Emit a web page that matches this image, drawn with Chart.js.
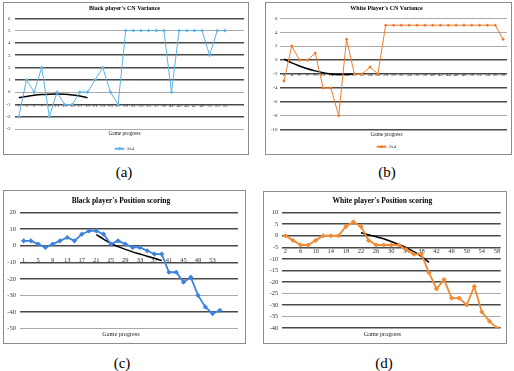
<!DOCTYPE html>
<html><head><meta charset="utf-8">
<script src="https://cdn.jsdelivr.net/npm/chart.js@4"></script>
<style>
html,body{margin:0;padding:0;background:#fff;}
body{width:514px;height:371px;position:relative;overflow:hidden;}
.frame{position:absolute;box-sizing:border-box;border:1px solid #8c8c8c;background:#fff;}
.frame canvas{position:absolute;left:0;top:0;}
.cap{position:absolute;font-size:15px;font-family:'Liberation Serif',serif;transform:translate(-50%,-50%);color:#000;white-space:nowrap;}
</style></head><body>
<div class="frame" style="left:3px;top:2px;width:246px;height:153px"><canvas id="ca" width="244" height="151" style="width:244px;height:151px"></canvas></div>
<div class="frame" style="left:265px;top:2px;width:247px;height:153px"><canvas id="cb" width="245" height="151" style="width:245px;height:151px"></canvas></div>
<div class="frame" style="left:3px;top:190px;width:243px;height:154px"><canvas id="cc" width="241" height="152" style="width:241px;height:152px"></canvas></div>
<div class="frame" style="left:263px;top:191px;width:244px;height:153px"><canvas id="cd" width="242" height="151" style="width:242px;height:151px"></canvas></div>
<div class="cap" style="left:124px;top:172px">(a)</div>
<div class="cap" style="left:387px;top:172px">(b)</div>
<div class="cap" style="left:122px;top:363px">(c)</div>
<div class="cap" style="left:384px;top:363px">(d)</div>
<script>
// ---------- data ----------
const movesOdd = [1,3,5,7,9,11,13,15,17,19,21,23,25,27,29,31,33,35,37,39,41,43,45,47,49,51,53,55];
const movesEven = [2,4,6,8,10,12,14,16,18,20,22,24,26,28,30,32,34,36,38,40,42,44,46,48,50,52,54,56,58];

const blackCN = [-2,1,0,2,-2,0,-1,-1,0,0,1,2,0,-1,5,5,5,5,5,5,0,5,5,5,5,3,5,5];
const blackCNTrendMoves = [1,3,5,7,9,11,13,15,17,19];
const blackCNTrend = [-0.46,-0.35,-0.26,-0.2,-0.17,-0.16,-0.18,-0.23,-0.31,-0.45];

const whiteCN = [-3,2,0,0,1,-4,-4,-8,3,-2,-2,-1,-2,5,5,5,5,5,5,5,5,5,5,5,5,5,5,5,3];
const whiteCNTrendMoves = [2,4,6,8,10,12,14,16,18,20];
const whiteCNTrend = [0.14,-0.4,-0.85,-1.25,-1.55,-1.8,-1.98,-2.07,-2.08,-2.0];

const blackPos = [3,3,1,-1,1,3,5,3,7,9,9,7,1,3,1,-1,-1,-3,-5,-5,-16,-16,-22,-19,-30,-37,-41,-39];
const blackPosTrendMoves = [21,23,25,27,29,31,33,35,37,39];
const blackPosTrend = [6.8,4.0,1.5,-0.5,-2.2,-3.7,-5.0,-6.3,-7.6,-8.9];

const whitePos = [0,-2,-4,-4,-2,0,0,0,4,6,4,-2,-4,-4,-4,-4,-6,-8,-8,-16,-23,-19,-27,-27,-30,-22,-33,-37,-40];
const whitePosTrendMoves = [22,24,26,28,30,32,34,36,38,40];
const whitePosTrend = [1.3,0.4,-0.4,-1.3,-2.5,-3.8,-5.2,-6.9,-8.9,-11.5];

const ticksA = movesOdd;
const ticksB = movesEven;
const ticksC = [1,5,9,13,17,21,25,29,33,37,41,45,49,53];
const ticksD = [2,6,10,14,18,22,26,30,34,38,42,46,50,54,58];

const titleA = "Black player's CN Variance";
const titleB = "White Player's CN Variance";
const titleC = "Black player's Position scoring";
const titleD = "White player's Position scoring";
const seriesLabel = '3x4';
const xTitle = 'Game progress';

// ---------- drawing ----------
const F = "'Liberation Serif', 'Times New Roman', serif";

const legendMarker = {
  id: 'legendMarker',
  afterDraw(chart) {
    const lg = chart.legend;
    if (!lg || !lg.options.display || !lg.legendHitBoxes || !lg.legendHitBoxes.length) return;
    const hb = lg.legendHitBoxes[0];
    const bw = lg.options.labels.boxWidth;
    const fs = lg.options.labels.font.size;
    const cx = hb.left + bw / 2, cy = hb.top + fs / 2;
    const ctx = chart.ctx, r = 1.8;
    ctx.save();
    ctx.fillStyle = chart.data.datasets[0].borderColor;
    ctx.beginPath();
    ctx.moveTo(cx, cy - r); ctx.lineTo(cx + r, cy); ctx.lineTo(cx, cy + r); ctx.lineTo(cx - r, cy);
    ctx.closePath(); ctx.fill();
    ctx.restore();
  }
};

function panel(id, c) {
  const pts = (xs, ys) => xs.map((x, i) => ({x: x, y: ys[i]}));
  new Chart(document.getElementById(id), {
    type: 'line',
    data: {
      datasets: [
        {label: seriesLabel, data: pts(c.moves, c.values), borderColor: c.color, backgroundColor: c.color,
         borderWidth: c.lw, pointStyle: 'rectRot', pointRadius: c.pr, pointBorderWidth: 0,
         pointBackgroundColor: c.color, tension: 0},
        {label: 'trend', data: pts(c.trendMoves, c.trend), borderColor: '#000', backgroundColor: '#000',
         borderWidth: 1.5, pointRadius: 0, tension: 0.4, fill: false}
      ]
    },
    options: {
      responsive: false, animation: false, devicePixelRatio: 1,
      layout: {padding: {left: 0, right: c.padR, top: 0, bottom: c.padB}},
      scales: {
        x: {
          type: 'linear', position: {y: 0}, min: c.xmin, max: c.xmax,
          grid: {display: false}, border: {display: false},
          afterBuildTicks: s => { s.ticks = c.ticks.map(v => ({value: v})); },
          ticks: {autoSkip: false, maxRotation: 0, minRotation: 0, padding: c.xpad,
                  font: {family: F, size: c.tickSize}, color: '#333'}
        },
        y: {
          min: c.ymin, max: c.ymax,
          ticks: {stepSize: c.ystep, padding: c.ypad, font: {family: F, size: c.tickSize}, color: '#333'},
          grid: {drawTicks: false,
                 color: ctx => (c.light.includes(ctx.tick && ctx.tick.value) ? '#aaaaaa' : '#4a4a4a'),
                 lineWidth: ctx => (c.light.includes(ctx.tick && ctx.tick.value) ? 1 : 1.5)},
          border: {display: false},
          afterFit: s => { s.width = c.yw; }
        }
      },
      plugins: {
        title: {display: true, text: c.title, color: '#000',
                font: {family: F, size: c.titleSize, weight: 'bold'},
                padding: {top: c.tpt, bottom: c.tpb}},
        subtitle: {display: true, text: xTitle, position: 'bottom', weight: 500, color: '#222',
                   font: {family: F, size: c.xtSize, weight: 'normal'},
                   padding: {top: c.spt, bottom: c.spb}},
        legend: {display: c.legend, position: 'bottom',
                 labels: {filter: it => it.datasetIndex === 0, boxWidth: 9, boxHeight: 1, padding: 2,
                          font: {family: F, size: 5}, color: '#333'}},
        tooltip: {enabled: false}
      }
    },
    plugins: [legendMarker]
  });
}

panel('ca', {moves: movesOdd, values: blackCN, trendMoves: blackCNTrendMoves, trend: blackCNTrend,
  color: '#5bb3e6', lw: 1, pr: 1.8, ticks: ticksA, xmin: 0, xmax: 60, ymin: -3, ymax: 6, ystep: 1,
  light: [5, 0, -3], title: titleA, titleSize: 6, tickSize: 5, xtSize: 5.3,
  yw: 11, ypad: 4.5, xpad: 3, padR: 3, padB: -7.2, tpt: 1.4, tpb: 6.7, spt: 1.8, spb: 7.0, legend: true});

panel('cb', {moves: movesEven, values: whiteCN, trendMoves: whiteCNTrendMoves, trend: whiteCNTrend,
  color: '#f07d2a', lw: 1, pr: 1.8, ticks: ticksB, xmin: 1, xmax: 59, ymin: -10, ymax: 6, ystep: 2,
  light: [6, 4, 2, -8], title: titleB, titleSize: 6, tickSize: 5, xtSize: 5.3,
  yw: 14, ypad: 2.5, xpad: 3.4, padR: 4, padB: -5.2, tpt: 1.4, tpb: 6.7, spt: 1.4, spb: 4.7, legend: true});

panel('cc', {moves: movesOdd, values: blackPos, trendMoves: blackPosTrendMoves, trend: blackPosTrend,
  color: '#3d82dc', lw: 1.8, pr: 2.6, ticks: ticksC, xmin: 0, xmax: 60, ymin: -50, ymax: 20, ystep: 10,
  light: [-30, -50], title: titleC, titleSize: 7.5, tickSize: 6.5, xtSize: 6.2,
  yw: 16, ypad: 4, xpad: 3, padR: 7, padB: 0, tpt: 5.5, tpb: 7.2, spt: 2, spb: 5.1, legend: false});

panel('cd', {moves: movesEven, values: whitePos, trendMoves: whitePosTrendMoves, trend: whitePosTrend,
  color: '#f28a33', lw: 1.8, pr: 2.6, ticks: ticksD, xmin: 1, xmax: 59, ymin: -40, ymax: 10, ystep: 5,
  light: [-25, -35], title: titleD, titleSize: 7.5, tickSize: 6.5, xtSize: 6.2,
  yw: 17.7, ypad: 3.4, xpad: 4, padR: 5.3, padB: 0, tpt: 4.5, tpb: 7.2, spt: 2.4, spb: 5.1, legend: false});
</script>
</body></html>
